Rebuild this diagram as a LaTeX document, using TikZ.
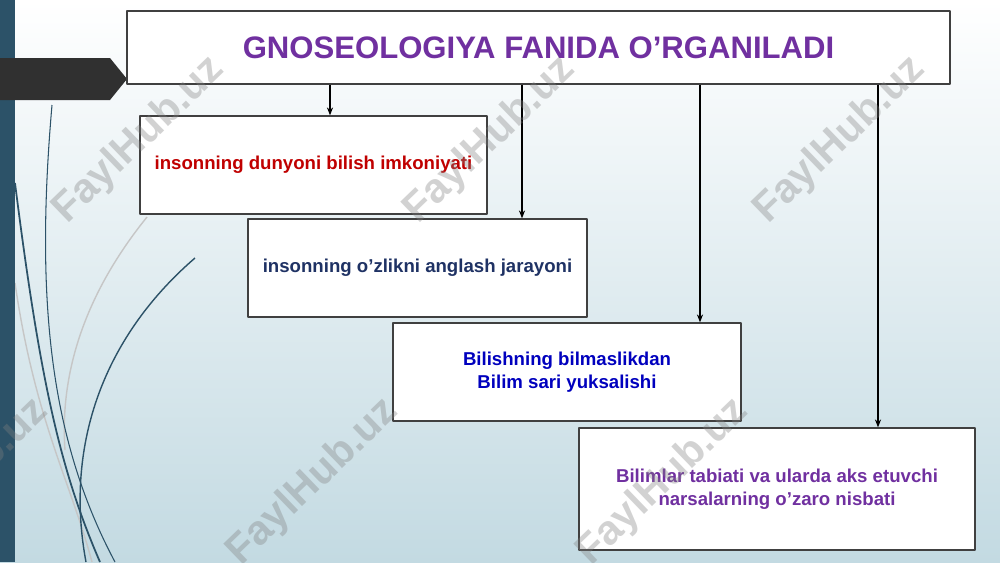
\documentclass[tikz,border=0pt]{standalone}
\usepackage{fontspec}
\setmainfont{Liberation Sans}
\usetikzlibrary{arrows.meta}
\definecolor{stripblue}{RGB}{44,82,104}
\definecolor{bgblue}{RGB}{195,218,226}
\definecolor{bgmid}{RGB}{228,238,242}
\definecolor{tabgray}{RGB}{48,48,48}
\definecolor{titlepurple}{RGB}{112,48,160}
\definecolor{boxred}{RGB}{192,0,0}
\definecolor{boxnavy}{RGB}{31,50,100}
\definecolor{boxblue}{RGB}{0,0,190}
\begin{document}
\begin{tikzpicture}[x=0.02cm,y=-0.02cm,line join=round,
  box/.style={draw=black!75,line width=.8pt,fill=white,inner sep=0pt,align=center,
    font=\bfseries\fontsize{10.6}{13}\selectfont},
  arr/.style={line width=.6pt,-{Stealth[length=4.5pt,width=3.5pt]}},
  curve/.style={stripblue,line width=1pt},
  faint/.style={gray!45,line width=.8pt},
  wmark/.style={rotate=44,text=gray,text opacity=.35,font=\bfseries\fontsize{23.5}{24}\selectfont}]
  \shade[top color=white,middle color=bgmid,bottom color=bgblue] (0,0) rectangle (1000,562);
  \useasboundingbox (0,0) rectangle (1000,562);
  \draw[faint] (147,217) .. controls (80,300) and (60,380) .. (65,450);
  \draw[faint] (15,283) .. controls (35,420) and (70,480) .. (92,562);
  \draw[curve,line width=.6pt] (52,105) .. controls (35,300) and (50,440) .. (115,562);
  \draw[curve] (15,183) .. controls (40,380) and (60,470) .. (100,562);
  \draw[curve,line width=.8pt] (195,258) .. controls (100,340) and (65,450) .. (86,562);
  \fill[stripblue] (0,0) rectangle (15,562);
  \fill[tabgray] (0,58) -- (110,58) -- (127,79) -- (110,100) -- (0,100) -- cycle;
  \node[box,minimum width=16.46cm,minimum height=1.46cm,text=titlepurple,
    font=\bfseries\fontsize{17.7}{21}\selectfont] (title) at (538.5,47.5)
    {GNOSEOLOGIYA FANIDA O’RGANILADI};
  \node[box,minimum width=6.94cm,minimum height=1.96cm,text=boxred] (b1) at (313.5,165)
    {insonning dunyoni bilish imkoniyati};
  \node[box,minimum width=6.78cm,minimum height=1.96cm,text=boxnavy] (b2) at (417.5,268)
    {insonning o’zlikni anglash jarayoni};
  \node[box,minimum width=6.96cm,minimum height=1.96cm,text=boxblue] (b3) at (567,372)
    {Bilishning bilmaslikdan\\ Bilim sari yuksalishi};
  \node[box,minimum width=7.92cm,minimum height=2.44cm,text=titlepurple] (b4) at (777,489)
    {Bilimlar tabiati va ularda aks etuvchi\\narsalarning o’zaro nisbati};
  \coordinate (c1) at (330,0);
  \coordinate (c2) at (522,0);
  \coordinate (c3) at (700,0);
  \coordinate (c4) at (878,0);
  \draw[arr] (title.south -| c1) -- (b1.north -| c1);
  \draw[arr] (title.south -| c2) -- (b2.north -| c2);
  \draw[arr] (title.south -| c3) -- (b3.north -| c3);
  \draw[arr] (title.south -| c4) -- (b4.north -| c4);
  \node[wmark] (w1) at (139,140) {FaylHub.uz};
  \node[wmark] (w2) at (490,140) {FaylHub.uz};
  \node[wmark] (w3) at (840,140) {FaylHub.uz};
  \node[wmark] (w4) at (-37,482) {FaylHub.uz};
  \node[wmark] (w5) at (313,482) {FaylHub.uz};
  \node[wmark] (w6) at (663,482) {FaylHub.uz};
\end{tikzpicture}
\end{document}
